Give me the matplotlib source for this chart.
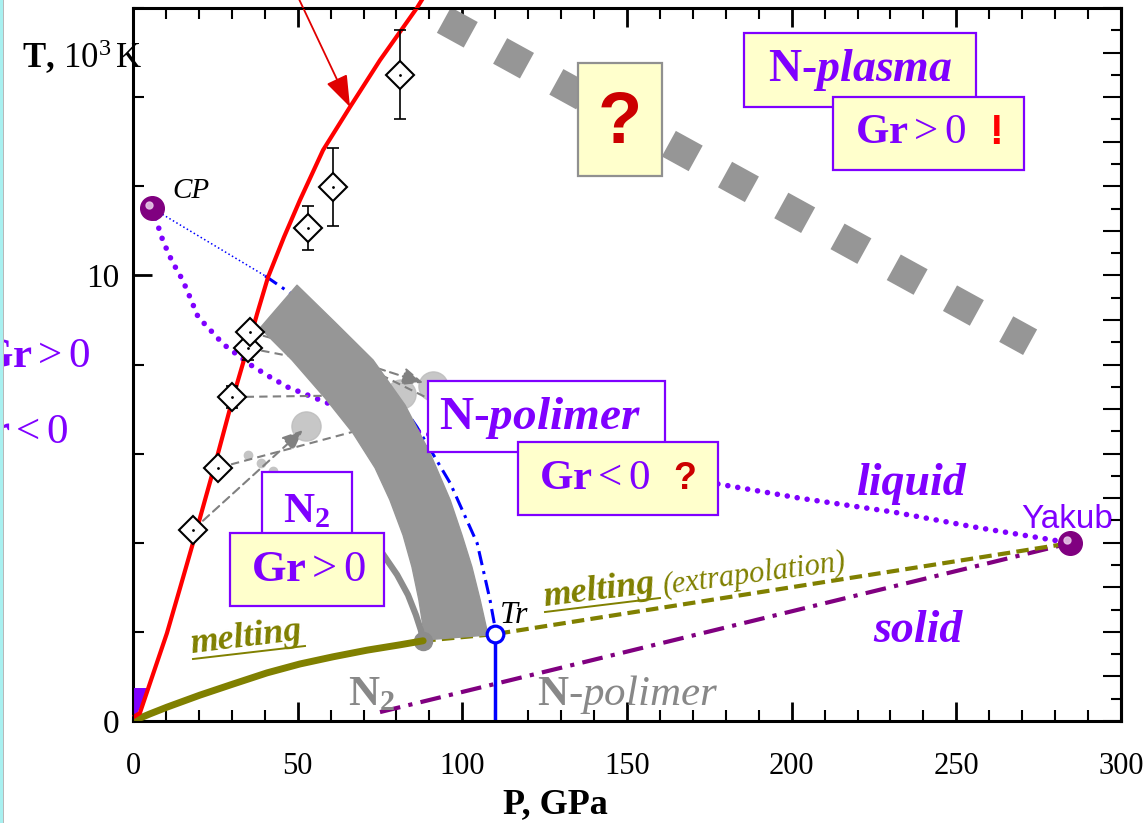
import numpy as np
import matplotlib
import matplotlib.pyplot as plt
from matplotlib.patches import Rectangle, Polygon
from matplotlib.ticker import MultipleLocator, FixedLocator, NullFormatter
from matplotlib.transforms import offset_copy

plt.rcParams['font.family'] = 'Liberation Serif'
plt.rcParams['mathtext.fontset'] = 'custom'
plt.rcParams['mathtext.rm'] = 'Liberation Serif'
plt.rcParams['mathtext.it'] = 'Liberation Serif:italic'
plt.rcParams['mathtext.bf'] = 'Liberation Serif:bold'
plt.rcParams['mathtext.bfit'] = 'Liberation Serif:bold:italic'

VIOLET = '#7F00FF'
OLIVE = '#808000'
GRAY = '#969696'
PURPLE = '#800080'
YELLOW = '#FFFFCC'

# ---- data (P in GPa, T in 10^3 K) ----
red_P = [0.6, 2.1, 5.16, 10.3, 14.27, 18.2, 21.86, 25.5, 30.4, 34.6, 37.65, 41.0,
         45.85, 50.7, 57.7, 65.9, 75.0, 86.2, 88.7]
red_T = [0.11, 0.18, 0.85, 1.97, 2.98, 3.99, 4.96, 5.92, 7.27, 8.33, 9.13, 9.96,
         10.86, 11.69, 12.81, 13.78, 14.83, 16.0, 16.3]

exp_P = [18.2, 25.8, 30.1, 34.9, 35.5, 53.1, 60.7, 81.1]
exp_T = [4.29, 5.68, 7.27, 8.37, 8.73, 11.06, 11.98, 14.5]
exp_err = [0.0, 0.0, 0.25, 0.27, 0.0, 0.49, 0.88, 1.0]

cp_P, cp_T = 5.77, 11.51
yakub_P, yakub_T = 284.5, 3.99
tr_P, tr_T = 109.9, 1.95

spin_P = [5.77, 7.29, 9.11, 11.84, 14.88, 16.40, 19.74, 24.90, 27.33, 36.13, 41.60,
          47.06, 52.83, 58.90, 62.85, 86.54, 96.25]
spin_T = [11.51, 11.18, 10.77, 10.32, 9.92, 9.67, 9.07, 8.66, 8.46, 7.97, 7.72,
          7.49, 7.32, 7.14, 7.02, 6.49, 6.31]

liq_P = [177.6, 202.5, 230.8, 255.7, 279.4, 284.5]
liq_T = [5.32, 5.00, 4.69, 4.35, 4.06, 3.99]

melt_P = [0.0, 5.16, 10.3, 20.3, 30.4, 40.7, 50.7, 60.7, 71.1, 81.1, 88.1]
melt_T = [0.0, 0.16, 0.31, 0.58, 0.83, 1.08, 1.28, 1.44, 1.59, 1.71, 1.80]

band_left_P = [38.6, 48.3, 58.3, 66.8, 73.5, 78.0, 82.0, 84.7, 86.8, 88.7]
band_left_T = [8.82, 8.10, 7.25, 6.46, 5.68, 4.96, 4.17, 3.46, 2.72, 1.82]
band_right_P = [49.8, 61.3, 72.9, 82.6, 90.2, 96.3, 99.9, 102.9, 105.4, 107.8]
band_right_T = [9.78, 8.95, 8.10, 7.09, 6.01, 4.96, 4.17, 3.46, 2.72, 1.93]

n2_P = [72.0, 76.5, 80.2, 83.5, 85.9, 87.4, 88.1]
n2_T = [4.17, 3.68, 3.28, 2.83, 2.38, 2.04, 1.80]

bound_P = [40.1, 50.7, 74.1, 82.0, 86.2, 96.3, 104.5, 108.4, 109.9]
bound_T = [9.99, 9.45, 7.92, 7.05, 6.60, 5.34, 3.99, 2.72, 2.11]

solid_P = [75.0, yakub_P]
solid_T = [0.20, yakub_T]

plasma_P = [94.4, 272.4]
plasma_T = [15.73, 8.50]

circ_P = [52.6, 81.4, 91.1]
circ_T = [6.62, 7.34, 7.52]
dot_P = [34.9, 38.9, 42.5]
dot_T = [5.97, 5.79, 5.61]

W, H = 1148, 823
AX_L, AX_R, AX_T, AX_B = 133, 1121, 8, 721

fig = plt.figure(figsize=(W / 100, H / 100), dpi=100)
ax = fig.add_axes([AX_L / W, 1 - AX_B / H, (AX_R - AX_L) / W, (AX_B - AX_T) / H])
ax.set_xlim(0, 300)
ax.set_ylim(0, 16)


def pd(x, y):
    # picture pixel -> data, used only to place the annotations
    return ((x - AX_L) / (AX_R - AX_L) * 300.0, (AX_B - y) / (AX_B - AX_T) * 16.0)


def box(x0, y0, x1, y1, fc, ec, z):
    p0 = pd(x0, y1)
    p1 = pd(x1, y0)
    ax.add_patch(Rectangle(p0, p1[0] - p0[0], p1[1] - p0[1], fc=fc, ec=ec, lw=1.6,
                           zorder=z, clip_on=False))


def label(x, y, s, **kw):
    kw.setdefault('zorder', 20)
    ax.text(*pd(x, y), s, clip_on=False, **kw)


# thick grey squares
ax.plot(plasma_P, plasma_T, color=GRAY, lw=21, linestyle=(0, (1.05, 1.15)),
        dash_capstyle='butt', zorder=2, clip_on=False)

# lines under the band
ax.plot(solid_P, solid_T, color=PURPLE, lw=3, linestyle=(0, (5, 2, 1, 2)), zorder=2)
ax.plot([88.1, tr_P, yakub_P], [1.80, tr_T, yakub_T], color=OLIVE, lw=3,
        linestyle=(0, (3, 1.5)), zorder=2)
ax.plot([cp_P, bound_P[0]], [cp_T, bound_T[0]], color='blue', lw=1.1, linestyle=':', zorder=2)
ax.plot(bound_P, bound_T, color='blue', lw=2.2, linestyle=(0, (4.7, 2, 1, 2)), zorder=2)
ax.plot([tr_P, tr_P], [tr_T, 0], color='blue', lw=2.5, zorder=2)
ax.plot(spin_P, spin_T, color=VIOLET, lw=4, linestyle=(0, (0.01, 1.9)),
        dash_capstyle='round', zorder=2)
ax.plot(liq_P, liq_T, color=VIOLET, lw=4, linestyle=(0, (0.01, 1.8)),
        dash_capstyle='round', zorder=2)

# grey circles and dashed arrows
ax.plot(circ_P, circ_T, 'o', ms=21, color='#BDBDBD', alpha=0.85, zorder=2)
ax.plot(dot_P, dot_T, 'o', ms=6, color='#C4C4C4', zorder=2)
gd = dict(color='#808080', lw=1.5, ls=(0, (4, 2.5)), shrinkA=0, shrinkB=0)
ax.annotate('', xy=(51.6, 6.53), xytext=(exp_P[0], exp_T[0]),
            arrowprops=dict(arrowstyle='-|>,head_length=0.7,head_width=0.3', mutation_scale=18, **gd))
ax.plot([exp_P[1], 66.8, 80.0], [exp_T[1], 6.49, 6.30], color='#808080', lw=1.5, ls=(0, (4, 2.5)), zorder=2)
ax.plot([exp_P[2], 79.6], [exp_T[2], 7.32], color='#808080', lw=1.5, ls=(0, (4, 2.5)), zorder=2)
ax.plot([exp_P[4], 74.1], [exp_T[4], 7.92], color='#808080', lw=1.5, ls=(0, (4, 2.5)), zorder=2)
ax.annotate('', xy=(88.1, 7.59), xytext=(74.1, 7.92),
            arrowprops=dict(arrowstyle='-|>,head_length=0.7,head_width=0.3', mutation_scale=18, **gd))
ax.plot([exp_P[3], 74.1, 89.3], [exp_T[3], 7.81, 7.25], color='#808080', lw=1.5, ls=(0, (4, 2.5)), zorder=2)

# grey band N2 / N-polimer
band = list(zip(band_left_P, band_left_T)) + list(zip(band_right_P[::-1], band_right_T[::-1]))
ax.add_patch(Polygon(band, closed=True, fc=GRAY, ec=GRAY, lw=1, joinstyle='round', zorder=3))
ax.plot(n2_P, n2_T, color='#8C8C8C', lw=4.5, solid_capstyle='round', zorder=3)
ax.plot([n2_P[-1]], [n2_T[-1]], 'o', ms=13, color='#8C8C8C', zorder=3)

# melting
ax.plot(melt_P, melt_T, color=OLIVE, lw=5, solid_capstyle='round', solid_joinstyle='round', zorder=3)

# red curve + small violet patch at the origin
ax.add_patch(Polygon([(0, 0.74), (4.6, 0.74), (3.9, 0.54), (1.2, 0.16), (0, 0.16)],
                     closed=True, fc=VIOLET, ec='none', zorder=3))
ax.plot(red_P, red_T, color='red', lw=3, solid_joinstyle='round', zorder=4, clip_on=False)

# experiment points
ax.errorbar(exp_P, exp_T, yerr=exp_err, fmt='none', ecolor='black', elinewidth=1.2,
            capsize=4.5, capthick=1.2, zorder=5)
ax.plot(exp_P, exp_T, 'D', ms=14.5, mfc='white', mec='black', mew=1.5, zorder=6)
ax.plot(exp_P, exp_T, '.', ms=2, color='black', zorder=7)

# spheres: CP and Yakub; Tr
ax.plot([cp_P, yakub_P], [cp_T, yakub_T], 'o', ms=17, color=PURPLE, zorder=8)
hl = offset_copy(ax.transData, fig=fig, x=-2.0, y=2.0, units='points')
ax.plot([cp_P, yakub_P], [cp_T, yakub_T], 'o', ms=5, color='#E6C6E6', alpha=0.9,
        transform=hl, zorder=9)
ax.plot([tr_P], [tr_T], 'o', ms=12, mfc='white', mec='blue', mew=2.3, zorder=8)

# red arrow from the top
ax.annotate('', xy=pd(350, 107), xytext=pd(298, -3), annotation_clip=False,
            arrowprops=dict(arrowstyle='-|>,head_length=1.4,head_width=0.5', mutation_scale=14,
                            color='#E00000', lw=1.3, shrinkA=0, shrinkB=0), zorder=10)

# boxes
box(262, 472, 352, 560, 'white', VIOLET, 11)
box(230, 533, 384, 606, YELLOW, VIOLET, 12)
box(428, 381, 665, 452, 'white', VIOLET, 11)
box(518, 442, 718, 515, YELLOW, VIOLET, 12)
box(578, 63, 662, 176, YELLOW, '#909090', 11)
box(744, 33, 976, 107, YELLOW, VIOLET, 11)
box(833, 97, 1024, 170, YELLOW, VIOLET, 12)

label(307, 512, r'$\mathbf{N_2}$', color=VIOLET, fontsize=31, ha='center', va='center')
label(308, 570, r'$\mathbf{Gr}>0$', color=VIOLET, fontsize=32, ha='center', va='center')
label(540, 418, r'$\mathbf{N}$-$\mathbfit{polimer}$', color=VIOLET, fontsize=34,
      fontweight='bold', ha='center', va='center')
label(595, 479, r'$\mathbf{Gr}<0$', color=VIOLET, fontsize=31, ha='center', va='center')
label(685, 479, '?', family='Liberation Sans', fontweight='bold', color='#CC0000',
      fontsize=27, ha='center', va='center')
label(620, 124, '?', family='Liberation Sans', fontweight='bold', color='#CC0000',
      fontsize=52, ha='center', va='center')
label(860, 70, r'$\mathbf{N}$-$\mathbfit{plasma}$', color=VIOLET, fontsize=33,
      fontweight='bold', ha='center', va='center')
label(911, 133, r'$\mathbf{Gr}>0$', color=VIOLET, fontsize=31, ha='center', va='center')
label(996, 133, '!', family='Liberation Sans', fontweight='bold', color='#FF0000',
      fontsize=30, ha='center', va='center')

# free labels
label(912, 495, 'liquid', color=VIOLET, fontsize=33, fontweight='bold', style='italic',
      ha='center', va='baseline')
label(918, 642, 'solid', color=VIOLET, fontsize=33, fontweight='bold', style='italic',
      ha='center', va='baseline')
label(1067, 528, 'Yakub', color=VIOLET, fontsize=24, family='Liberation Sans',
      ha='center', va='baseline')
label(172, 198, 'CP', fontsize=21, style='italic', ha='left', va='baseline')
label(500, 623, 'Tr', fontsize=23, style='italic', ha='left', va='baseline')
label(348, 705, r'$\mathbf{N_2}$', color='#888888', fontsize=31, ha='left', va='baseline')
label(537, 705, r'$\mathbf{N}$-$\mathit{polimer}$', color='#888888', fontsize=31,
      ha='left', va='baseline')

label(191, 653, 'melting', color=OLIVE, fontsize=26, fontweight='bold', style='italic',
      rotation=7, rotation_mode='anchor', ha='left', va='baseline')
ax.plot(*zip(pd(193, 659), pd(305, 646)), color=OLIVE, lw=1.4, clip_on=False, zorder=20)
label(544, 606, 'melting', color=OLIVE, fontsize=26, fontweight='bold', style='italic',
      rotation=7, rotation_mode='anchor', ha='left', va='baseline')
ax.plot(*zip(pd(545, 612), pd(660, 598)), color=OLIVE, lw=1.4, clip_on=False, zorder=20)
label(664, 594, '(extrapolation)', color=OLIVE, fontsize=22, style='italic',
      rotation=7.5, rotation_mode='anchor', ha='left', va='baseline')

# cut-off labels at the left edge
label(90, 357, r'$\mathbf{Gr}>0$', color=VIOLET, fontsize=31, ha='right', va='center')
label(68, 433, r'$\mathbf{Gr}<0$', color=VIOLET, fontsize=31, ha='right', va='center')

# axis titles
fig.text(22 / W, 1 - 68 / H, r'$\mathbf{T,}\,10^3\,\mathrm{K}$', fontsize=25, ha='left', va='baseline')
fig.text(555 / W, 1 - 805 / H, 'P, GPa', fontsize=26, fontweight='bold', ha='center', va='center')

# ticks
ax.xaxis.set_major_locator(MultipleLocator(50))
ax.xaxis.set_minor_locator(MultipleLocator(10))
ax.yaxis.set_major_locator(FixedLocator([0, 10]))
ax.yaxis.set_minor_locator(MultipleLocator(2))
ax.tick_params(which='both', direction='in', top=True, right=False)
ax.tick_params(which='major', length=14, width=2)
ax.tick_params(which='minor', length=8, width=1.5)
ax.tick_params(axis='x', labelsize=22, pad=22)
ax.tick_params(axis='y', labelsize=24, pad=10)
for s in ax.spines.values():
    s.set_linewidth(2.2)

ax2 = ax.twinx()
ax2.set_ylim(0, 16)
ax2.yaxis.set_major_locator(MultipleLocator(1))
ax2.yaxis.set_minor_locator(MultipleLocator(0.5))
ax2.yaxis.set_major_formatter(NullFormatter())
ax2.tick_params(which='both', direction='in')
ax2.tick_params(which='major', length=13, width=1.5)
ax2.tick_params(which='minor', length=7, width=1.5)
ax2.spines['right'].set_linewidth(2.2)

# slide edge on the left
fig.patches.append(Rectangle((0, 0), 2.7 / W, 1, transform=fig.transFigure, fc='#A8F0F0', ec='none'))
fig.patches.append(Rectangle((2.7 / W, 0), 1.5 / W, 1, transform=fig.transFigure, fc='#B8B8B8', ec='none'))

fig.savefig('out.png', dpi=100)
